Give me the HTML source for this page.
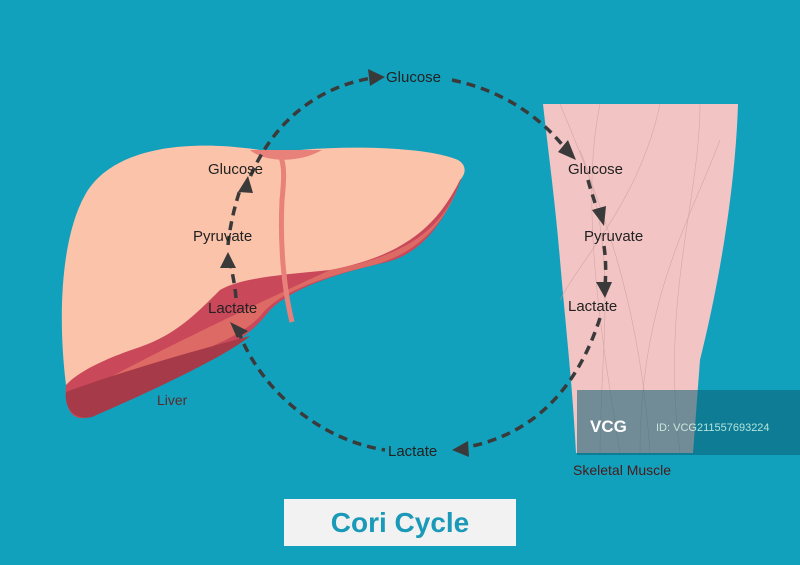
<!DOCTYPE html>
<html><head><style>body{margin:0;background:#12a1bc}svg{display:block}</style></head><body>
<svg width="800" height="565" viewBox="0 0 800 565" xmlns="http://www.w3.org/2000/svg" font-family="Liberation Sans, sans-serif">
<rect width="800" height="565" fill="#12a1bc"/>
<!-- muscle -->
<path d="M543,104 L738,104 C735,200 715,300 700,360 L693,453 L576,453 C572,380 566,330 560,260 C555,200 548,150 543,104 Z" fill="#f2c4c4"/>
<g stroke="#c99a9a" stroke-width="0.6" fill="none" opacity="0.7">
<path d="M560,104 C600,200 640,300 650,453"/><path d="M600,104 C580,200 600,330 620,453"/><path d="M660,104 C640,200 580,260 560,300"/>
<path d="M700,104 C700,200 660,300 680,453"/><path d="M580,150 C620,250 600,350 600,453"/><path d="M720,140 C690,220 640,300 640,453"/>
</g>
<!-- liver -->
<path d="M464,172 C445,225 420,255 383,263 C330,275 290,290 270,310 C255,330 240,340 220,350 C180,370 130,395 85,418 C70,420 64,405 66,385 L66,340 C120,290 250,255 330,255 C410,245 440,210 464,172 Z" fill="#c9485a"/>
<path d="M458,188 C440,232 410,256 370,266 C320,278 280,292 262,314 C245,334 215,345 180,360 C140,377 100,395 72,400 C100,380 200,330 330,270 C410,255 440,228 458,188 Z" fill="#dd6a64"/>
<path d="M66,392 C120,372 190,352 250,336 C230,354 150,392 92,417 C74,421 64,408 66,392 Z" fill="#a73a48"/>
<path d="M66,385 C58,320 60,240 85,195 C110,150 180,138 260,150 L300,150 C360,145 430,148 458,160 C468,166 465,175 460,180 C440,220 410,255 330,270 C280,275 240,278 220,290 C195,315 175,335 140,347 C110,357 80,370 66,385 Z" fill="#fbc3aa"/>
<path d="M250,150 C265,163 300,163 322,150 Z" fill="#e8817a"/>
<path d="M280,155 C285,165 284,180 282,200 C280,240 283,285 292,322" stroke="#e8817a" stroke-width="5" fill="none"/>
<!-- watermark band -->
<rect x="577" y="390" width="223" height="65" fill="#0a5f73" opacity="0.55"/>
<text x="590" y="432" fill="#fff" font-size="17" font-weight="bold">VCG</text>
<text x="656" y="431" fill="#dfe" font-size="11" opacity="0.8">ID: VCG211557693224</text>
<!-- dashed cycle -->
<g stroke="#3a3a3a" stroke-width="3.5" fill="none" stroke-dasharray="9,6">
<path d="M245,190 C270,120 320,85 378,77"/>
<path d="M452,80 C500,90 540,115 568,152"/>
<path d="M588,180 C592,195 596,205 600,218"/>
<path d="M604,246 C606,260 606,272 605,288"/>
<path d="M600,318 C580,380 540,435 462,448"/>
<path d="M238,330 C260,390 320,440 385,450"/>
<path d="M236,298 C235,285 232,272 230,260"/>
<path d="M228,245 C230,225 235,205 240,190"/>
</g>
<g fill="#3a3a3a">
<polygon points="385,77 368,69 370,86"/>
<polygon points="576,160 558,152 568,140"/>
<polygon points="604,226 592,210 606,206"/>
<polygon points="605,298 596,282 612,282"/>
<polygon points="452,450 468,441 469,457"/>
<polygon points="230,322 248,331 237,338"/>
<polygon points="228,252 220,268 236,268"/>
<polygon points="248,176 238,192 253,193"/>
</g>
<g fill="#222" font-size="15">
<text x="386" y="82">Glucose</text>
<text x="208" y="174">Glucose</text>
<text x="193" y="241">Pyruvate</text>
<text x="208" y="313">Lactate</text>
<text x="568" y="174">Glucose</text>
<text x="584" y="241">Pyruvate</text>
<text x="568" y="311">Lactate</text>
<text x="388" y="456">Lactate</text>
</g>
<text x="157" y="405" fill="#5a2a2a" font-size="14">Liver</text>
<text x="573" y="475" fill="#4a1a1a" font-size="14">Skeletal Muscle</text>
<rect x="284" y="499" width="232" height="47" fill="#f2f2f2"/>
<text x="400" y="532" fill="#1a9ab8" font-size="28" font-weight="bold" text-anchor="middle">Cori Cycle</text>
</svg>
</body></html>
